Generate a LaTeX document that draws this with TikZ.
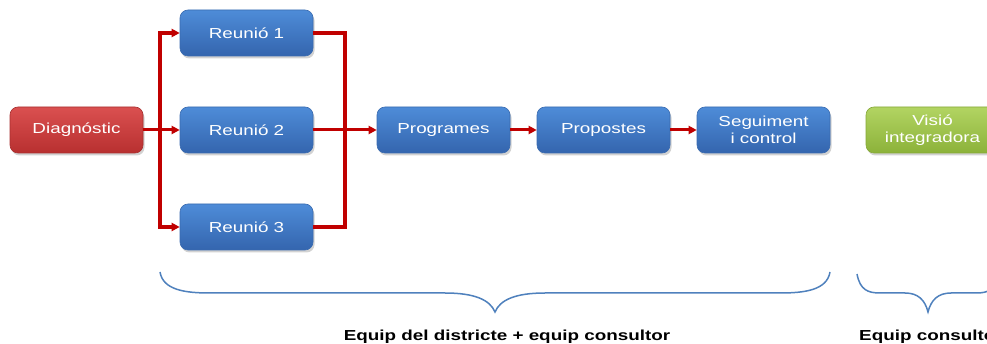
\documentclass[tikz,border=0pt]{standalone}
\usepackage{fontspec}
\setmainfont{Liberation Sans}[FakeStretch=1.3]
\usetikzlibrary{shadows,arrows.meta}
\definecolor{arrred}{HTML}{C00000}
\definecolor{bluetop}{HTML}{4E8CD8}
\definecolor{bluebot}{HTML}{3465AE}
\definecolor{blueedge}{HTML}{3A6BB0}
\definecolor{redtop}{HTML}{DA5050}
\definecolor{redbot}{HTML}{B83030}
\definecolor{rededge}{HTML}{A83030}
\definecolor{greentop}{HTML}{B2D462}
\definecolor{greenbot}{HTML}{8CB23A}
\definecolor{greenedge}{HTML}{86A838}
\definecolor{bracecol}{HTML}{4F81BD}
\tikzset{
  box/.style={rounded corners=8pt, minimum width=133pt, minimum height=46pt,
    inner sep=0pt, text=white, align=center,
    font=\fontsize{14.5}{17}\selectfont,
    drop shadow={shadow xshift=1.5pt, shadow yshift=-2.5pt, opacity=0.35}},
  bluebox/.style={box, top color=bluetop, bottom color=bluebot, draw=blueedge, line width=0.6pt},
  redbox/.style={box, top color=redtop, bottom color=redbot, draw=rededge, line width=0.6pt},
  greenbox/.style={box, top color=greentop, bottom color=greenbot, draw=greenedge, line width=0.6pt},
  link/.style={draw=arrred, line width=3.6pt},
  arr/.style={link, -{Triangle[length=8pt,width=8pt]}},
  thinarr/.style={draw=arrred, line width=3pt, -{Triangle[length=8pt,width=8pt]}},
  brace/.style={draw=bracecol, line width=1.5pt},
  lab/.style={font=\bfseries\fontsize{14.5}{16}\selectfont, text=black, inner sep=0pt}
}
\begin{document}
\begin{tikzpicture}[x=1pt,y=-1pt]
\clip (0,0) rectangle (987,344);
\useasboundingbox (0,0) rectangle (987,344);
\fill[white] (0,0) rectangle (987,344);

\node[redbox] (diag) at (76.5,130) {Diagnóstic};
\node[bluebox] (reu1) at (246.5,33) {Reunió 1};
\node[bluebox] (reu2) at (246.5,130) {Reunió 2};
\node[bluebox] (reu3) at (246.5,227) {Reunió 3};
\node[bluebox] (prog) at (443.5,130) {Programes};
\node[bluebox] (prop) at (603.5,130) {Propostes};
\node[bluebox] (seg) at (763.5,130) {Seguiment\\i control};
\node[greenbox] (vis) at (932.5,130) {Visió\\integradora};

\coordinate (L) at (160,130);
\coordinate (R) at (345,130);

\draw[arr] (L) |- (reu1.west);
\draw[arr] (L) |- (reu3.west);
\draw[thinarr] (diag.east) -- (reu2.west);

\draw[link] (reu1.east) -| (R);
\draw[link] (reu3.east) -| (R);
\draw[thinarr] (reu2.east) -- (prog.west);

\draw[thinarr] (prog.east) -- (prop.west);
\draw[thinarr] (prop.east) -- (seg.west);

\draw[brace] (160,272) .. controls (163,290) and (185,293) .. (210,293) -- (445,293)
  .. controls (475,293) and (490,300) .. (495,312)
  .. controls (500,300) and (515,293) .. (545,293) -- (780,293)
  .. controls (805,293) and (827,290) .. (830,272);
\draw[brace] (857,274) .. controls (860,290) and (868,293) .. (880,293) -- (905,293)
  .. controls (918,293) and (925,300) .. (928,312)
  .. controls (931,300) and (938,293) .. (951,293) -- (976,293)
  .. controls (988,293) and (996,290) .. (999,274);

\node[lab] (t1) at (507,337) {Equip del districte + equip consultor};
\node[lab, anchor=west] (t2) at (859,337) {Equip consultor};
\end{tikzpicture}
\end{document}
